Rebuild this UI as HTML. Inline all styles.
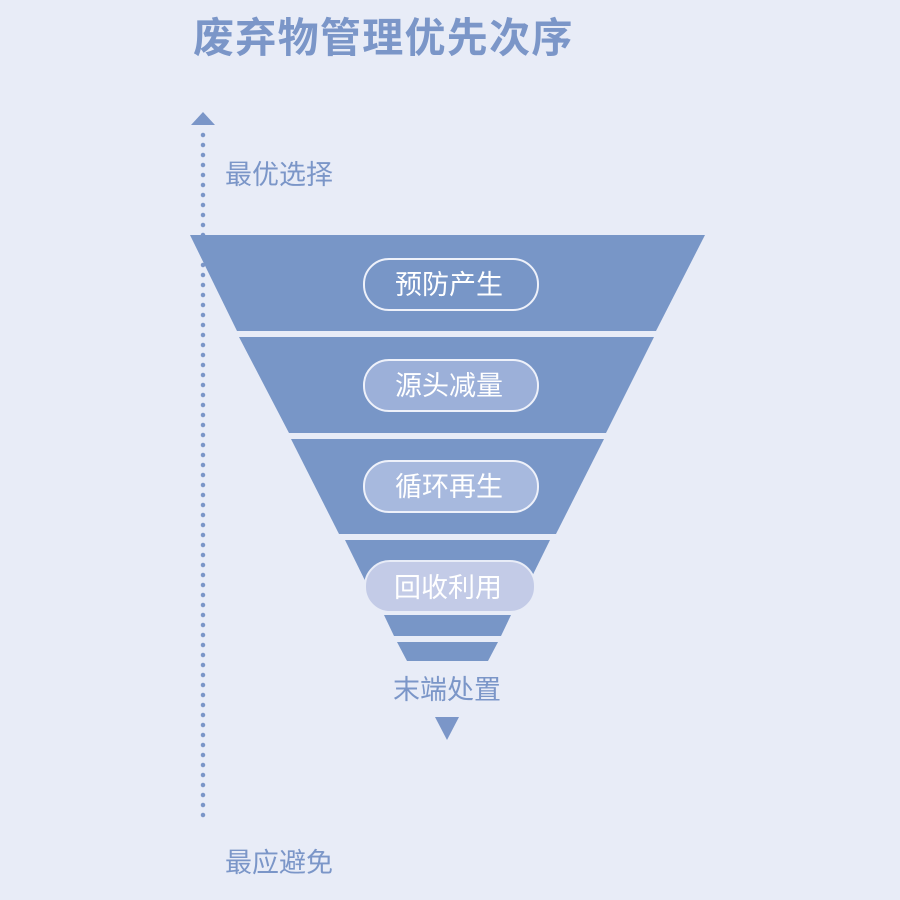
<!DOCTYPE html>
<html><head><meta charset="utf-8"><style>
html,body{margin:0;padding:0;background:#e8ecf7;}
</style></head><body>
<svg width="900" height="900" xmlns="http://www.w3.org/2000/svg" style="display:block">
<rect width="900" height="900" fill="#e8ecf7"/>
<text x="193" y="52" font-family="Liberation Sans, Noto Sans CJK SC, sans-serif" font-size="41" font-weight="bold" letter-spacing="1.3" fill="#7b96c8">废弃物管理优先次序</text>
<polygon points="191,125 203,112 215,125" fill="#7b96c8"/>
<line x1="203" y1="135" x2="203" y2="822" stroke="#7b96c8" stroke-width="4.5" stroke-linecap="round" stroke-dasharray="0 10"/>
<text x="225" y="184" font-family="Liberation Sans, Noto Sans CJK SC, sans-serif" font-size="27" fill="#7b96c8">最优选择</text>
<text x="225" y="872" font-family="Liberation Sans, Noto Sans CJK SC, sans-serif" font-size="27" fill="#7b96c8">最应避免</text>
<g fill="#7896c7">
<polygon points="190,235 705,235 656,331 237,331"/>
<polygon points="239,337 654,337 606,433 289,433"/>
<polygon points="291,439 604,439 556,534 339,534"/>
<polygon points="345,540 550,540 516,609 379,609"/>
<polygon points="384,615 511,615 501,636 394,636"/>
<polygon points="397,642 498,642 488,661 407,661"/>
</g>
<g font-family="Liberation Sans, Noto Sans CJK SC, sans-serif" font-size="27" fill="#ffffff" text-anchor="middle">
<rect x="364" y="259" width="174" height="51" rx="25" fill="#7896c7" stroke="#eef1fa" stroke-width="2"/>
<text x="449" y="294">预防产生</text>
<rect x="364" y="360" width="174" height="51" rx="25" fill="#9cb0d9" stroke="#eef1fa" stroke-width="2"/>
<text x="449" y="395">源头减量</text>
<rect x="364" y="461" width="174" height="51" rx="25" fill="#a7b9de" stroke="#eef1fa" stroke-width="2"/>
<text x="449" y="496">循环再生</text>
<rect x="365" y="561" width="170" height="51" rx="25" fill="#c3cbe7" stroke="#e8ecf7" stroke-width="2"/>
<text x="448" y="597">回收利用</text>
</g>
<text x="447" y="699" font-family="Liberation Sans, Noto Sans CJK SC, sans-serif" font-size="27" fill="#7b96c8" text-anchor="middle">末端处置</text>
<polygon points="435,717 459,717 447,740" fill="#7b96c8"/>
</svg>
</body></html>
